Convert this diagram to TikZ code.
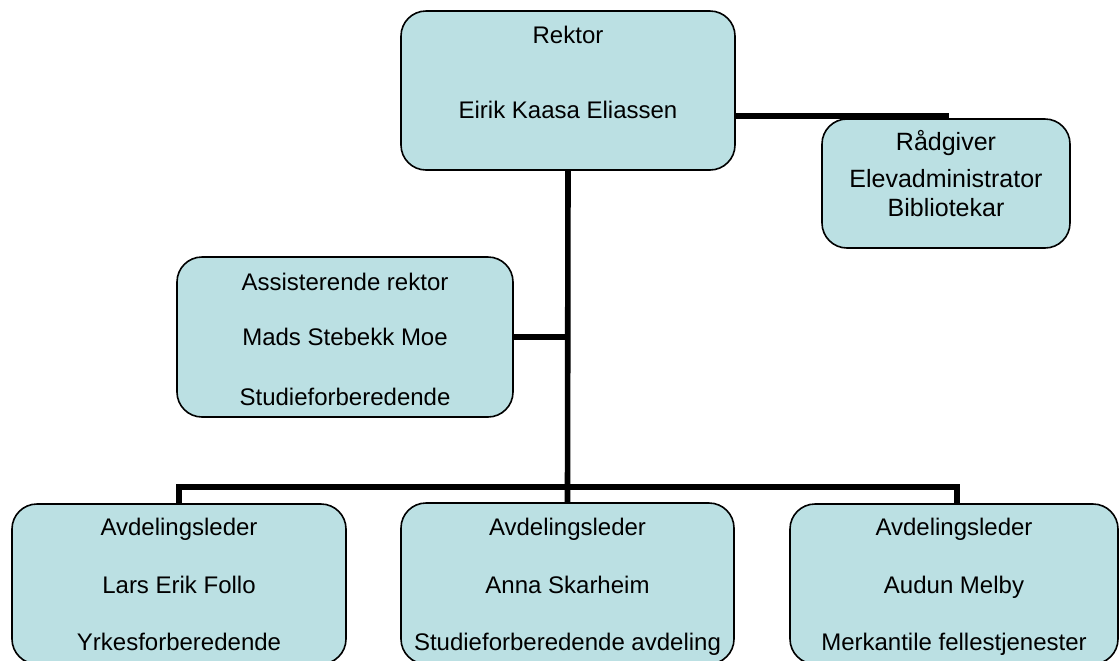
\documentclass[tikz,border=0pt]{standalone}
\usepackage{fontspec}
\setmainfont{Liberation Sans}
\definecolor{boxfill}{HTML}{BBE0E3}
\begin{document}
\begin{tikzpicture}[x=0.5pt,y=-0.5pt,
  orgbox/.style={draw=black, line width=0.8pt, fill=boxfill, rounded corners=12.5pt, inner sep=0pt, anchor=center},
  txt/.style={inner sep=0pt, anchor=base, font=\fontsize{12}{14}\selectfont},
  bigtxt/.style={txt, font=\fontsize{12.5}{14}\selectfont},
  conn/.style={line width=2.8pt, draw=black}]
\useasboundingbox (0,0) rectangle (1120,660);
\clip (0,0) rectangle (1120,660);
% boxes
\node[orgbox, minimum width=167pt, minimum height=79.5pt] (rektor) at (568,90.5) {};
\node[orgbox, minimum width=124pt, minimum height=64.5pt] (rad) at (946,183.5) {};
\node[orgbox, minimum width=168pt, minimum height=80pt] (ass) at (345,337) {};
\node[orgbox, minimum width=167pt, minimum height=80pt] (lb) at (179,584) {};
\node[orgbox, minimum width=166.5pt, minimum height=80.5pt] (mb) at (567.5,583.5) {};
\node[orgbox, minimum width=164pt, minimum height=80pt] (rb) at (954,584) {};
% connectors
\coordinate (radend) at (949,116);
\draw[conn] (rektor.east |- radend) -- (radend);
\draw[conn] (rektor.south) -- (mb.north);
\draw[conn] (ass.east) -- (ass.east -| rektor.south);
\coordinate (busl) at (179,487);
\coordinate (busr) at (957,487);
\draw[conn] (lb.north) -- (busl) -- (busr) -- (busr |- rb.north);
% texts
\node[txt] (t1) at (568,43) {Rektor};
\node[txt] (t2) at (568,118) {Eirik Kaasa Eliassen};
\node[bigtxt] (t3) at (946,150) {Rådgiver};
\node[bigtxt] (t4) at (946,187) {Elevadministrator};
\node[bigtxt] (t5) at (946,216) {Bibliotekar};
\node[txt] (t6) at (345,290) {Assisterende rektor};
\node[txt] (t7) at (345,345) {Mads Stebekk Moe};
\node[txt] (t8) at (345,405) {Studieforberedende};
\node[txt] (t9) at (179,535) {Avdelingsleder};
\node[txt] (t10) at (179,593) {Lars Erik Follo};
\node[txt] (t11) at (179,650) {Yrkesforberedende};
\node[txt] (t12) at (567.5,535) {Avdelingsleder};
\node[txt] (t13) at (567.5,593) {Anna Skarheim};
\node[txt] (t14) at (567.5,650) {Studieforberedende avdeling};
\node[txt] (t15) at (954,535) {Avdelingsleder};
\node[txt] (t16) at (954,593) {Audun Melby};
\node[txt] (t17) at (954,650) {Merkantile fellestjenester};
\end{tikzpicture}
\end{document}
